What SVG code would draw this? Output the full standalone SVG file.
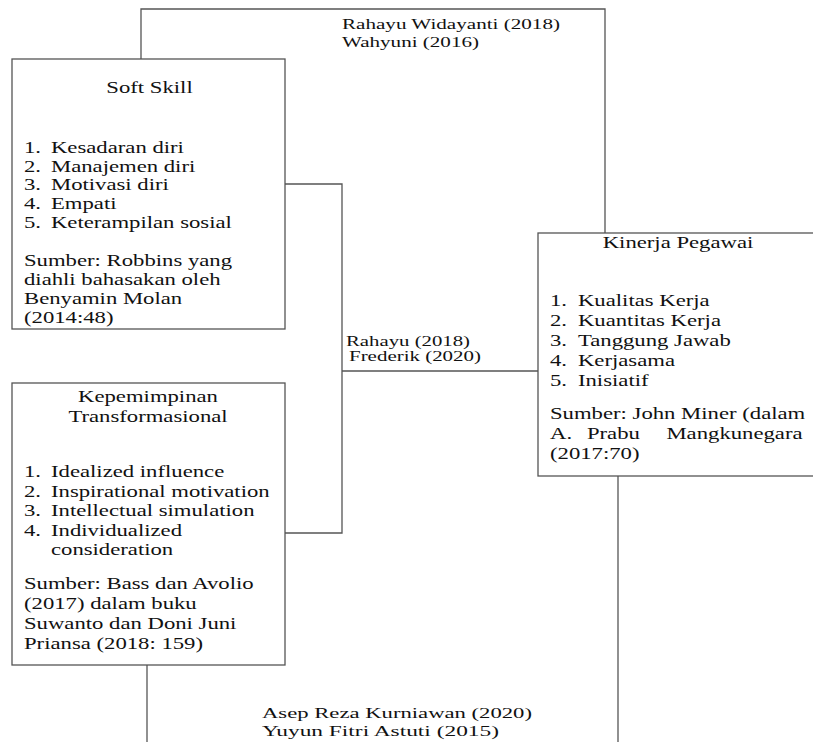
<svg xmlns="http://www.w3.org/2000/svg" width="813" height="742" viewBox="0 0 813 742">
<style>
.box{fill:#fff;stroke:#555;stroke-width:1.3}
.ln{fill:none;stroke:#555;stroke-width:1.3}
text{font-family:"Liberation Serif","Times New Roman",serif;fill:#111}
.t{font-size:16px}
.lb{font-size:14px}
.c{text-anchor:middle}
</style>
<rect width="813" height="742" fill="#fff"/>
<g id="connectors">
<path class="ln" d="M141,59 V9 H605 V233"/>
<path class="ln" d="M285,184 H342 V533 H285"/>
<path class="ln" d="M342,371 H538"/>
<path class="ln" d="M147,665 V742"/>
<path class="ln" d="M618,476 V742"/>
<text class="lb" x="342" y="29" textLength="218" lengthAdjust="spacingAndGlyphs">Rahayu Widayanti (2018)</text>
<text class="lb" x="342" y="47" textLength="137" lengthAdjust="spacingAndGlyphs">Wahyuni (2016)</text>
<text class="lb" x="346" y="346" textLength="124" lengthAdjust="spacingAndGlyphs">Rahayu (2018)</text>
<text class="lb" x="349" y="361" textLength="132" lengthAdjust="spacingAndGlyphs">Frederik (2020)</text>
<text class="lb" x="262" y="718" textLength="270" lengthAdjust="spacingAndGlyphs">Asep Reza Kurniawan (2020)</text>
<text class="lb" x="262" y="736" textLength="237" lengthAdjust="spacingAndGlyphs">Yuyun Fitri Astuti (2015)</text>
</g>
<g id="soft-skill">
<rect class="box" x="12" y="59" width="273" height="270"/>
<g transform="translate(149.5 0) scale(1.42 1)"><text class="t c" x="0" y="93">Soft Skill</text></g>
<g transform="translate(24 0) scale(1.42 1)">
<text class="t" y="153"><tspan x="0">1.</tspan><tspan x="19">Kesadaran diri</tspan></text>
<text class="t" y="172"><tspan x="0">2.</tspan><tspan x="19">Manajemen diri</tspan></text>
<text class="t" y="190"><tspan x="0">3.</tspan><tspan x="19">Motivasi diri</tspan></text>
<text class="t" y="209"><tspan x="0">4.</tspan><tspan x="19">Empati</tspan></text>
<text class="t" y="228"><tspan x="0">5.</tspan><tspan x="19">Keterampilan sosial</tspan></text>
<text class="t" x="0" y="266">Sumber: Robbins yang</text>
<text class="t" x="0" y="285">diahli bahasakan oleh</text>
<text class="t" x="0" y="304">Benyamin Molan</text>
<text class="t" x="0" y="323">(2014:48)</text>
</g>
</g>
<g id="kepemimpinan">
<rect class="box" x="12" y="383" width="273" height="282"/>
<g transform="translate(148 0) scale(1.42 1)">
<text class="t c" x="0" y="402">Kepemimpinan</text>
<text class="t c" x="0" y="422">Transformasional</text>
</g>
<g transform="translate(24 0) scale(1.42 1)">
<text class="t" y="477"><tspan x="0">1.</tspan><tspan x="19">Idealized influence</tspan></text>
<text class="t" y="497"><tspan x="0">2.</tspan><tspan x="19">Inspirational motivation</tspan></text>
<text class="t" y="516"><tspan x="0">3.</tspan><tspan x="19">Intellectual simulation</tspan></text>
<text class="t" y="536"><tspan x="0">4.</tspan><tspan x="19">Individualized</tspan></text>
<text class="t" x="19" y="555">consideration</text>
<text class="t" x="0" y="589">Sumber: Bass dan Avolio</text>
<text class="t" x="0" y="609">(2017) dalam buku</text>
<text class="t" x="0" y="629">Suwanto dan Doni Juni</text>
<text class="t" x="0" y="649">Priansa (2018: 159)</text>
</g>
</g>
<g id="kinerja">
<rect class="box" x="538" y="233" width="290" height="243"/>
<g transform="translate(678 0) scale(1.42 1)"><text class="t c" x="0" y="248">Kinerja Pegawai</text></g>
<g transform="translate(550 0) scale(1.42 1)">
<text class="t" y="306"><tspan x="0">1.</tspan><tspan x="19.7">Kualitas Kerja</tspan></text>
<text class="t" y="326"><tspan x="0">2.</tspan><tspan x="19.7">Kuantitas Kerja</tspan></text>
<text class="t" y="346"><tspan x="0">3.</tspan><tspan x="19.7">Tanggung Jawab</tspan></text>
<text class="t" y="366"><tspan x="0">4.</tspan><tspan x="19.7">Kerjasama</tspan></text>
<text class="t" y="386"><tspan x="0">5.</tspan><tspan x="19.7">Inisiatif</tspan></text>
<text class="t" x="0" y="419">Sumber: John Miner (dalam</text>
<text class="t" y="439"><tspan x="0">A.</tspan><tspan x="26">Prabu</tspan><tspan x="82">Mangkunegara</tspan></text>
<text class="t" x="0" y="459">(2017:70)</text>
</g>
</g>
</svg>
